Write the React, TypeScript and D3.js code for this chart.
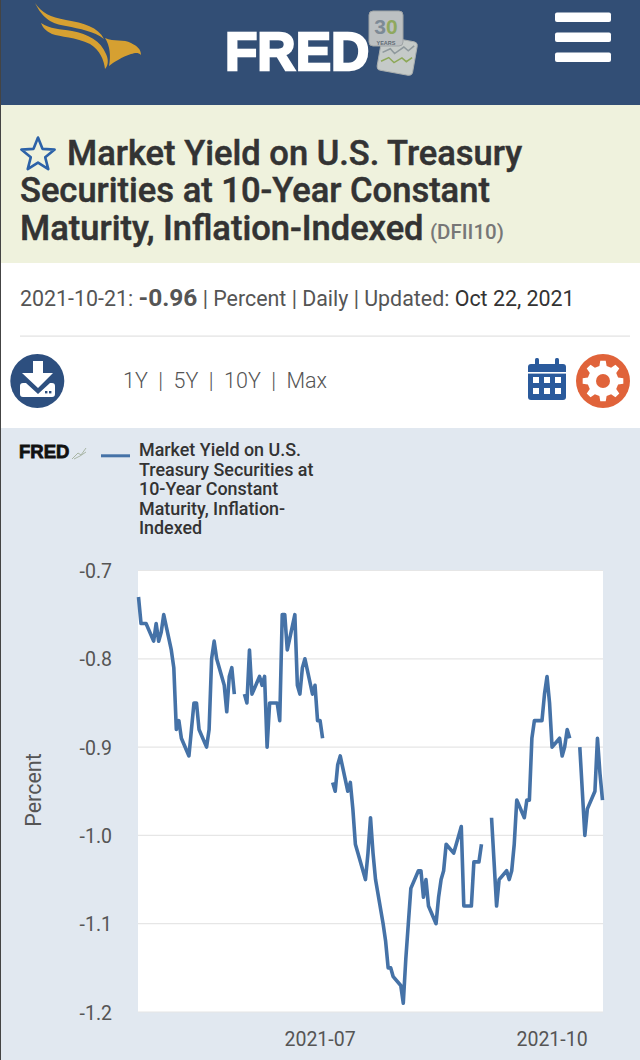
import React from 'react'
import * as d3 from 'd3'

const dates = [
  '2021-04-20', '2021-04-21', '2021-04-22', '2021-04-23', '2021-04-26', '2021-04-27', '2021-04-28', '2021-04-29', '2021-04-30',
  '2021-05-03', '2021-05-04', '2021-05-05', '2021-05-06', '2021-05-07', '2021-05-10', '2021-05-11', '2021-05-12', '2021-05-13', '2021-05-14',
  '2021-05-17', '2021-05-18', '2021-05-19', '2021-05-20', '2021-05-21', '2021-05-24', '2021-05-25', '2021-05-26', '2021-05-27', '2021-05-28', '2021-05-31',
  '2021-06-01', '2021-06-02', '2021-06-03', '2021-06-04', '2021-06-07', '2021-06-08', '2021-06-09', '2021-06-10', '2021-06-11',
  '2021-06-14', '2021-06-15', '2021-06-16', '2021-06-17', '2021-06-18', '2021-06-21', '2021-06-22', '2021-06-23', '2021-06-24', '2021-06-25',
  '2021-06-28', '2021-06-29', '2021-06-30', '2021-07-01', '2021-07-02', '2021-07-05', '2021-07-06', '2021-07-07', '2021-07-08', '2021-07-09',
  '2021-07-12', '2021-07-13', '2021-07-14', '2021-07-15', '2021-07-16', '2021-07-19', '2021-07-20', '2021-07-21', '2021-07-22', '2021-07-23',
  '2021-07-26', '2021-07-27', '2021-07-28', '2021-07-29', '2021-07-30', '2021-08-02', '2021-08-03', '2021-08-04', '2021-08-05', '2021-08-06',
  '2021-08-09', '2021-08-10', '2021-08-11', '2021-08-12', '2021-08-13', '2021-08-16', '2021-08-17', '2021-08-18', '2021-08-19', '2021-08-20',
  '2021-08-23', '2021-08-24', '2021-08-25', '2021-08-26', '2021-08-27', '2021-08-30', '2021-08-31', '2021-09-01', '2021-09-02', '2021-09-03', '2021-09-06',
  '2021-09-07', '2021-09-08', '2021-09-09', '2021-09-10', '2021-09-13', '2021-09-14', '2021-09-15', '2021-09-16', '2021-09-17',
  '2021-09-20', '2021-09-21', '2021-09-22', '2021-09-23', '2021-09-24', '2021-09-27', '2021-09-28', '2021-09-29', '2021-09-30', '2021-10-01',
  '2021-10-04', '2021-10-05', '2021-10-06', '2021-10-07', '2021-10-08', '2021-10-11', '2021-10-12', '2021-10-13', '2021-10-14', '2021-10-15',
  '2021-10-18', '2021-10-19', '2021-10-20', '2021-10-21',
]
const yields: (number | null)[] = [
  -0.73, -0.76, -0.76, -0.76, -0.78, -0.76, -0.78, -0.77, -0.75,
  -0.79, -0.81, -0.88, -0.87, -0.89, -0.91, -0.88, -0.85, -0.85, -0.88,
  -0.90, -0.88, -0.80, -0.78, -0.80, -0.83, -0.86, -0.82, -0.81, -0.84, null,
  -0.84, -0.85, -0.79, -0.84, -0.82, -0.83, -0.82, -0.90, -0.85,
  -0.85, -0.87, -0.75, -0.75, -0.79, -0.75, -0.83, -0.84, -0.81, -0.80,
  -0.84, -0.83, -0.87, -0.87, -0.89, null, -0.94, -0.95, -0.92, -0.91,
  -0.95, -0.94, -0.97, -1.01, -1.02, -1.05, -1.02, -0.98, -1.02, -1.05,
  -1.10, -1.12, -1.15, -1.15, -1.16, -1.17, -1.19, -1.14, -1.10, -1.06,
  -1.04, -1.04, -1.07, -1.05, -1.08, -1.10, -1.07, -1.05, -1.04, -1.01,
  -1.02, -1.01, -1.00, -0.99, -1.08, -1.08, -1.03, -1.03, -1.03, -1.01, null,
  -0.98, -1.03, -1.08, -1.05, -1.04, -1.05, -1.04, -1.01, -0.96,
  -0.98, -0.96, -0.96, -0.89, -0.87, -0.87, -0.84, -0.82, -0.85, -0.90,
  -0.89, -0.91, -0.90, -0.88, -0.89, null, -0.90, -0.95, -1.00, -0.97,
  -0.95, -0.89, -0.93, -0.96,
]
const yTicks = [-0.7, -0.8, -0.9, -1.0, -1.1, -1.2]
const xTicks = ['2021-07-01', '2021-10-01']
const titleLines = ['Market Yield on U.S. Treasury', 'Securities at 10-Year Constant', 'Maturity, Inflation-Indexed']
const legendLines = ['Market Yield on U.S.', 'Treasury Securities at', '10-Year Constant', 'Maturity, Inflation-', 'Indexed']
const ranges = ['1Y', '5Y', '10Y', 'Max']

const parse = d3.utcParse('%Y-%m-%d')
const sans = 'Roboto, sans-serif'
const lineBlue = '#4572a7'

const x = d3
  .scaleUtc()
  .domain([parse(dates[0])!, parse(dates[dates.length - 1])!])
  .range([138.5, 602.5])
const y = d3.scaleLinear().domain([-0.7, -1.2]).range([570.5, 1012])

const series = dates.map((d, i) => ({ date: parse(d)!, value: yields[i] }))
const line = d3
  .line<{ date: Date; value: number | null }>()
  .defined((d) => d.value !== null)
  .x((d) => x(d.date))
  .y((d) => y(d.value as number))

const gearPath = () => {
  const pts: [number, number][] = []
  const teeth = 8
  for (let i = 0; i < teeth; i++) {
    const a = (i / teeth) * 2 * Math.PI
    const w = (2 * Math.PI) / teeth
    pts.push([a - w * 0.3, 15.5], [a - w * 0.17, 20.5], [a + w * 0.17, 20.5], [a + w * 0.3, 15.5])
  }
  return d3.lineRadial().curve(d3.curveLinearClosed)(pts) as string
}

const Header = () => (
  <g>
    <rect x={0} y={0} width={640} height={105} fill="#324e75" />
    <g fill="#d6a031">
      <path d="M35,3 C42,13 50,17 66,20 C84,23 98,27 104,39 C94,31 80,29 66,26 C52,24 43,19 35,3 Z" />
      <path d="M41,23 C50,29 60,29 72,31 C88,34 101,41 106,54 C109,60 108,66 105,69 C104,60 100,50 90,44 C76,37 60,37 52,34 C46,31 43,28 41,23 Z" />
      <path d="M105,38 C114,42 124,39 131,43 C137,46 141,49 141,55 C138,52 135,53 131,54 C122,57 114,62 109,66 C111,56 110,46 105,38 Z" />
    </g>
    <text x={225} y={69.5} fontFamily="'Liberation Sans', sans-serif" fontWeight={700} fontSize={53} fill="#fff" stroke="#fff" strokeWidth={2.4}>
      FRED
    </text>
    <g transform="rotate(10 397 57)">
      <rect x={379} y={39} width={36} height={34} rx={4} fill="#c5cac8" stroke="#a9aeae" />
      <path d="M382,55 L389,50 L394,54 L402,46 L407,49 L412,43" fill="none" stroke="#8e989c" strokeWidth={1.5} />
      <path d="M382,64 L389,59 L395,63 L402,57 L407,60 L412,55" fill="none" stroke="#8da858" strokeWidth={1.5} />
    </g>
    <rect x={369} y={11} width={34} height={35} rx={4} fill="#bcc0c2" stroke="#9ea3a5" />
    <text x={386} y={34} textAnchor="middle" fontFamily="'Liberation Sans', sans-serif" fontWeight={700} fontSize={21}>
      <tspan fill="#7d8a96">3</tspan>
      <tspan fill="#8fa85f">0</tspan>
    </text>
    <text x={386} y={44.5} textAnchor="middle" fontFamily="'Liberation Sans', sans-serif" fontWeight={700} fontSize={5.5} fill="#5f6b75">
      YEARS
    </text>
    {[12.5, 32.5, 52.5].map((t) => (
      <rect key={t} x={555} y={t} width={56} height={9.5} rx={2} fill="#fff" />
    ))}
  </g>
)

const TitleBlock = () => (
  <g>
    <rect x={0} y={105} width={640} height={158} fill="#eff2dd" />
    <path
      d={d3.lineRadial().curve(d3.curveLinearClosed)(
        d3.range(10).map((i) => [(i * Math.PI) / 5, i % 2 ? 7.6 : 17.5] as [number, number]),
      ) as string}
      transform="translate(38 155)"
      fill="none"
      stroke="#2c62a8"
      strokeWidth={2.6}
      strokeLinejoin="round"
    />
    {titleLines.map((t, i) => (
      <text key={t} x={i === 0 ? 67 : 20} y={164.5 + i * 37.7} fontFamily={sans} fontWeight={500} fontSize={34.5} fill="#333" stroke="#333" strokeWidth={0.5}>
        {t}
      </text>
    ))}
    <text x={430} y={239} fontFamily={sans} fontWeight={500} fontSize={20.5} fill="#777">
      (DFII10)
    </text>
    <rect x={0} y={263} width={640} height={165} fill="#fff" />
    <text x={20} y={306} fontFamily={sans} fontSize={21.4} fill="#555">
      2021-10-21: <tspan fontWeight={700} fontSize={24.5}>-0.96</tspan> | Percent | Daily | Updated: <tspan fill="#333">Oct 22, 2021</tspan>
    </text>
    <rect x={20} y={335.5} width={610} height={1.2} fill="#e2e2e2" />
  </g>
)

const Toolbar = () => (
  <g>
    <circle cx={37.3} cy={381} r={27} fill="#2d4f7f" />
    <path d="M33,361 H43 V373 H53 L38,388 L22,373 H33 Z" fill="#fff" />
    <path d="M20,386 Q20,383 23,383 H26 L38,394 L50,383 H52 Q55,383 55,386 V394 Q55,397 52,397 H23 Q20,397 20,394 Z" fill="#fff" />
    <rect x={45} y={391} width={2.4} height={2.4} fill="#2d4f7f" />
    <rect x={49} y={391} width={2.4} height={2.4} fill="#2d4f7f" />
    <text x={123} y={388} fontFamily={sans} fontWeight={300} fontSize={21.5} fill="#555">
      {ranges.join('\u00a0\u00a0|\u00a0\u00a0')}
    </text>
    <g fill="#2a5a9c">
      <rect x={528} y={364} width={38} height={36} rx={3} />
      <rect x={535} y={358} width={4} height={9} rx={1.5} />
      <rect x={555} y={358} width={4} height={9} rx={1.5} />
    </g>
    <rect x={528} y={372} width={38} height={1.6} fill="#fff" />
    {[0, 1, 2].map((c) =>
      [0, 1].map((r) => <rect key={`${c}-${r}`} x={533 + c * 11} y={377 + r * 11} width={6} height={6} fill="#fff" />),
    )}
    <circle cx={603} cy={381} r={27} fill="#e0633a" />
    <path d={gearPath()} transform="translate(603 381)" fill="#fff" />
    <circle cx={603} cy={381} r={7} fill="#e0633a" />
  </g>
)

const Chart = () => (
  <g>
    <rect x={0} y={428} width={640} height={632} fill="#e1e8f0" />
    <text x={19} y={458} fontFamily="'Liberation Sans', sans-serif" fontWeight={700} fontSize={18.5} fill="#111" stroke="#111" strokeWidth={0.8}>
      FRED
    </text>
    <path d="M72,459 L78,453 L81,455 L86,448 M74,459 L80,456 L86,452" fill="none" stroke="#a9b6a6" strokeWidth={1} />
    <rect x={101} y={454.3} width={29} height={3} fill={lineBlue} />
    {legendLines.map((t, i) => (
      <text key={t} x={139} y={456 + i * 19.5} fontFamily={sans} fontWeight={500} fontSize={17.9} fill="#333">
        {t}
      </text>
    ))}
    <rect x={138} y={570} width={465} height={442} fill="#fff" />
    {yTicks.map((t) => (
      <g key={t}>
        <line x1={138} x2={603} y1={y(t)} y2={y(t)} stroke="#e6e6e6" strokeWidth={1.2} />
        <text x={112} y={y(t) + 7.5} textAnchor="end" fontFamily={sans} fontSize={19.5} fill="#555">
          {t.toFixed(1)}
        </text>
      </g>
    ))}
    {xTicks.map((t) => (
      <text key={t} x={x(parse(t)!)} y={1046} textAnchor="middle" fontFamily={sans} fontSize={19.5} fill="#555">
        {d3.utcFormat('%Y-%m')(parse(t)!)}
      </text>
    ))}
    <text transform="translate(41 790) rotate(-90)" textAnchor="middle" fontFamily={sans} fontSize={21.5} fill="#555">
      Percent
    </text>
    <path d={line(series) as string} fill="none" stroke={lineBlue} strokeWidth={3.6} strokeLinejoin="round" />
  </g>
)

export default function App() {
  return (
    <svg width={640} height={1060} viewBox="0 0 640 1060" style={{ position: 'absolute', left: 0, top: 0, display: 'block' }}>
      <rect width={640} height={1060} fill="#fff" />
      <Header />
      <TitleBlock />
      <Toolbar />
      <Chart />
      <rect x={0} y={0} width={1} height={1060} fill="#444" />
    </svg>
  )
}
